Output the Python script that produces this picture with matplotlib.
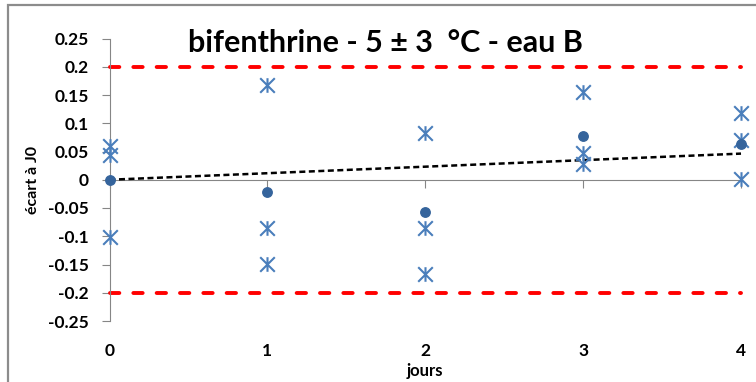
import numpy as np
import matplotlib
matplotlib.use("Agg")
import matplotlib.pyplot as plt
from matplotlib.path import Path
from matplotlib.patches import Rectangle
from matplotlib.ticker import FuncFormatter

# deviation from day 0 for each replicate, and the mean of the replicates
days = [0, 1, 2, 3, 4]
rep_1 = [0.060, 0.168, 0.083, 0.155, 0.118]
rep_2 = [0.044, -0.086, -0.086, 0.047, 0.071]
rep_3 = [-0.101, -0.149, -0.166, 0.027, 0.002]
mean_values = [0.0, -0.022, -0.057, 0.077, 0.063]
limit = 0.2

title = "bifenthrine - 5 \u00b1 3  \u00b0C - eau B"

plt.rcParams["font.family"] = ["Lato", "DejaVu Sans"]
plt.rcParams["font.weight"] = "bold"

GRAY = "#868686"
STAR_BLUE = "#4A7EBB"
DOT_BLUE = "#35649C"

# excel-style asterisk: vertical bar plus an X
asterisk = Path(
    [(0, -1), (0, 1), (-1, -1), (1, 1), (-1, 1), (1, -1)],
    [Path.MOVETO, Path.LINETO] * 3,
)

fig = plt.figure(figsize=(7.56, 3.82), dpi=100)
ax = fig.add_axes([109.5 / 756, 1 - 321 / 382, 631.5 / 756, 282.5 / 382])

ax.plot([days[0], days[-1]], [limit, limit], color="#FF0000", lw=2.8,
        dashes=(2.4, 3.6), dash_capstyle="round", clip_on=False, zorder=2)
ax.plot([days[0], days[-1]], [-limit, -limit], color="#FF0000", lw=2.8,
        dashes=(2.4, 3.6), dash_capstyle="round", clip_on=False, zorder=2)

# linear trend of the means, forced through the origin
x = np.array(days, dtype=float)
y = np.array(mean_values)
slope = np.sum(x * y) / np.sum(x * x)
ax.plot(x, slope * x, color="black", lw=1.8, dashes=(2.4, 1.4),
        clip_on=False, zorder=3)

for rep in (rep_1, rep_2, rep_3):
    ax.plot(days, rep, linestyle="none", marker=asterisk, markersize=10.5,
            markeredgewidth=1.5, color=STAR_BLUE, clip_on=False, zorder=4)

ax.plot(days, mean_values, linestyle="none", marker="o", markersize=6.8,
        color=DOT_BLUE, clip_on=False, zorder=5)

ax.set_xlim(0, 4)
ax.set_ylim(-0.25, 0.25)
ax.set_yticks(np.round(np.arange(-0.25, 0.2501, 0.05), 2))
ax.yaxis.set_major_formatter(FuncFormatter(lambda v, _: f"{round(v, 2) + 0:g}"))

for side in ("top", "right"):
    ax.spines[side].set_visible(False)
ax.spines["left"].set_color(GRAY)
ax.spines["bottom"].set_color(GRAY)
ax.spines["bottom"].set_position(("data", 0))
ax.set_xticks(days)
ax.tick_params(axis="x", direction="out", length=6, color=GRAY,
               labelbottom=False)
ax.tick_params(axis="y", direction="out", length=6, color=GRAY, pad=9,
               labelsize=12.5)
for lbl in ax.get_yticklabels():
    lbl.set_fontweight("bold")

# day labels sit below the plot, not on the zero line
sec = ax.secondary_xaxis("bottom")
sec.set_xticks(days)
sec.spines["bottom"].set_visible(False)
sec.tick_params(length=0, pad=16, labelsize=12.5)
for lbl in sec.get_xticklabels():
    lbl.set_fontweight("bold")
sec.set_xlabel("jours", fontsize=12, fontweight="bold", labelpad=3)

fig.text(33 / 756, 1 - 180 / 382, "\u00e9cart \u00e0 J0", rotation=90,
         ha="center", va="center", fontsize=11.5, fontweight="bold")
fig.text(385 / 756, 1 - 43 / 382, title, ha="center", va="center",
         fontsize=22, fontweight="bold")

fig.patches.append(Rectangle((7.5 / 756, -0.1), 2, 1 - 5.5 / 382 + 0.1,
                             transform=fig.transFigure, fill=False,
                             edgecolor="#8C8C8C", lw=1.6))

fig.savefig("out.png", dpi=100)
